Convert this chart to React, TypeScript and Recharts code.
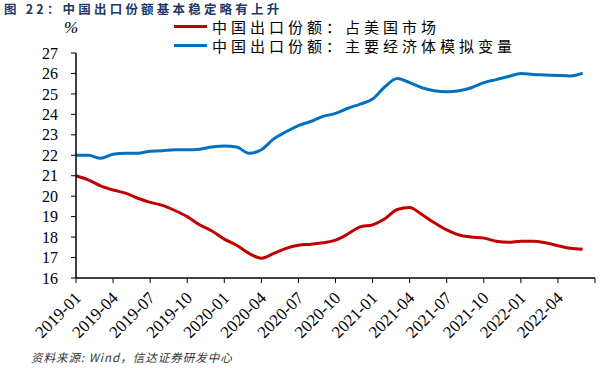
import React from 'react';
import { LineChart, Line, XAxis, YAxis } from 'recharts';

// monthly, 2019-01 .. 2022-06
const months = [
  '2019-01', '2019-02', '2019-03', '2019-04', '2019-05', '2019-06', '2019-07', '2019-08', '2019-09', '2019-10', '2019-11', '2019-12',
  '2020-01', '2020-02', '2020-03', '2020-04', '2020-05', '2020-06', '2020-07', '2020-08', '2020-09', '2020-10', '2020-11', '2020-12',
  '2021-01', '2021-02', '2021-03', '2021-04', '2021-05', '2021-06', '2021-07', '2021-08', '2021-09', '2021-10', '2021-11', '2021-12',
  '2022-01', '2022-02', '2022-03', '2022-04', '2022-05', '2022-06',
];

const usShare = [
  21.0, 20.8, 20.5, 20.3, 20.15, 19.9, 19.7, 19.55, 19.3, 19.0, 18.6, 18.3,
  17.9, 17.6, 17.2, 16.97, 17.2, 17.45, 17.6, 17.65, 17.72, 17.85, 18.15, 18.5,
  18.6, 18.9, 19.35, 19.45, 19.1, 18.7, 18.35, 18.1, 18.0, 17.95, 17.8, 17.75,
  17.8, 17.8, 17.72, 17.58, 17.45, 17.4,
];

const majorShare = [
  22.0, 22.0, 21.85, 22.05, 22.1, 22.1, 22.2, 22.22, 22.27, 22.27, 22.3, 22.4,
  22.45, 22.4, 22.1, 22.27, 22.8, 23.15, 23.45, 23.65, 23.9, 24.05, 24.3, 24.5,
  24.75, 25.35, 25.75, 25.55, 25.3, 25.15, 25.1, 25.15, 25.3, 25.55, 25.7, 25.85,
  26.0, 25.95, 25.93, 25.9, 25.88, 26.02,
];

const tickLabels = [
  '2019-01', '2019-04', '2019-07', '2019-10', '2020-01', '2020-04', '2020-07',
  '2020-10', '2021-01', '2021-04', '2021-07', '2021-10', '2022-01', '2022-04', '',
];
const yTicks = [16, 17, 18, 19, 20, 21, 22, 23, 24, 25, 26, 27];

const seriesNames = ['中国出口份额：占美国市场', '中国出口份额：主要经济体模拟变量'];
const RED = '#C00000';
const BLUE = '#0070C0';

const data = months.map((m, i) => ({ i, month: m, us: usShare[i], major: majorShare[i] }));
const xTicks = tickLabels.map((_, k) => k * 3);

const serif = '"Liberation Serif", "DejaVu Serif", serif';
const cjk = '"Noto Sans CJK SC", sans-serif';

function XTick(props: any) {
  const { x, y, payload } = props;
  const label = tickLabels[payload.value / 3] || '';
  const ax = x + 6;
  const ay = y + 14;
  return (
    <text
      x={ax}
      y={ay}
      transform={`rotate(-45 ${ax} ${ay})`}
      textAnchor="end"
      fontFamily={serif}
      fontSize={17}
      fill="#000"
    >
      {label}
    </text>
  );
}

export default function App() {
  return (
    <div style={{ position: 'absolute', left: 0, top: 0, width: 616, height: 368, background: '#fff', overflow: 'hidden' }}>
      <div style={{ position: 'absolute', left: 4, top: 1, lineHeight: '16px', fontFamily: cjk, fontWeight: 700, fontSize: 12.5, color: '#1F3864', letterSpacing: 3.2, whiteSpace: 'nowrap' }}>
        图 22：中国出口份额基本稳定略有上升
      </div>
      <div style={{ position: 'absolute', left: 64, top: 18, fontFamily: serif, fontSize: 17, fontStyle: 'italic' }}>%</div>
      <div style={{ position: 'absolute', left: 174, top: 17, fontFamily: cjk, fontSize: 15, color: '#000' }}>
        {[{ name: seriesNames[0], color: RED }, { name: seriesNames[1], color: BLUE }].map((it) => (
          <div key={it.name} style={{ display: 'flex', alignItems: 'center', height: 19, whiteSpace: 'nowrap' }}>
            <span style={{ display: 'inline-block', width: 33, height: 3, background: it.color, marginRight: 5 }} />
            <span style={{ letterSpacing: 4 }}>{it.name}</span>
          </div>
        ))}
      </div>
      <LineChart width={616} height={368} data={data} margin={{ top: 53, right: 21, bottom: 0, left: 0 }}>
        <XAxis
          dataKey="i"
          type="number"
          domain={[0, 42]}
          ticks={xTicks}
          interval={0}
          tick={<XTick />}
          tickSize={5}
          height={90}
          axisLine={{ stroke: '#000', strokeWidth: 1.5 }}
          tickLine={{ stroke: '#000' }}
        />
        <YAxis
          domain={[16, 27]}
          ticks={yTicks}
          interval={0}
          width={76}
          tickSize={5}
          tickMargin={13}
          axisLine={{ stroke: '#000', strokeWidth: 1.5 }}
          tickLine={{ stroke: '#000' }}
          tick={{ fontFamily: serif, fontSize: 16, fill: '#000' }}
        />
        <Line type="monotone" dataKey="us" name={seriesNames[0]} stroke={RED} strokeWidth={3} dot={false} isAnimationActive={false} />
        <Line type="monotone" dataKey="major" name={seriesNames[1]} stroke={BLUE} strokeWidth={3} dot={false} isAnimationActive={false} />
      </LineChart>
      <div style={{ position: 'absolute', left: 31, top: 349, fontFamily: cjk, fontSize: 11.5, fontStyle: 'italic', color: '#333', letterSpacing: 1, whiteSpace: 'nowrap' }}>
        资料来源: Wind，信达证券研发中心
      </div>
    </div>
  );
}
